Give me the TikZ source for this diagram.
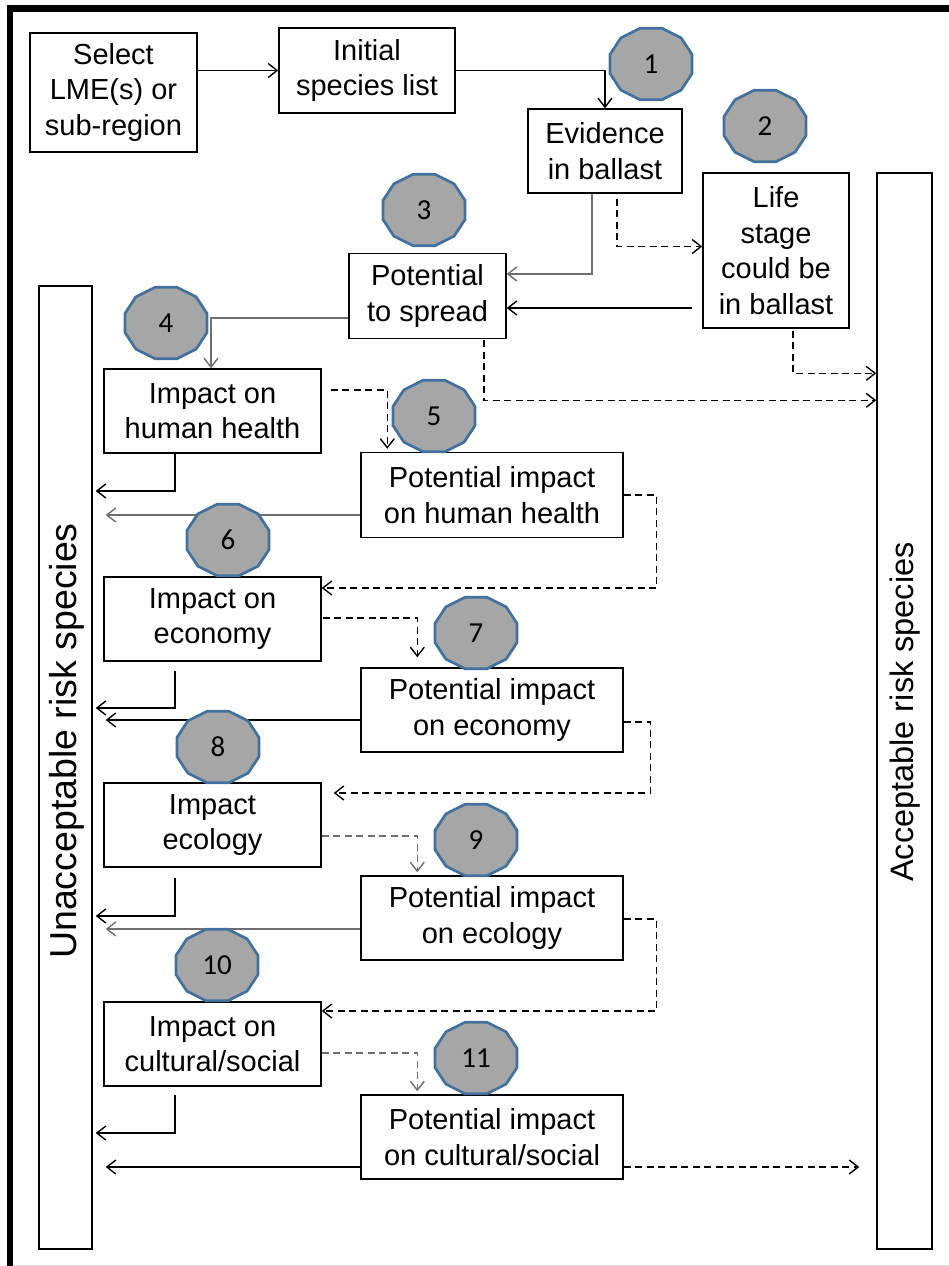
\documentclass[tikz,border=0pt]{standalone}
\usepackage{fontspec}
\setmainfont{Liberation Sans}
\newfontfamily\numfont{Carlito}
\usetikzlibrary{arrows.meta}
\definecolor{ringfill}{HTML}{A6A6A6}
\definecolor{ringline}{HTML}{41719C}
\definecolor{lineg}{HTML}{6E6E6E}
\tikzset{
  box/.style={draw,line width=1.4pt,align=center,inner sep=0pt,font=\fontsize{29}{35.5}\selectfont},
  bar/.style={draw,line width=1.4pt,inner sep=0pt},
  flow/.style={line width=1.4pt,-{Straight Barb[length=9pt,width=14pt,line width=1.4pt]}},
  flowg/.style={flow,draw=lineg},
  dflow/.style={flow,dash pattern=on 7pt off 4.5pt},
  dflowg/.style={dflow,draw=lineg},
  ringc/.style={fill=ringfill,draw=ringline,line width=2.7pt},
  numtxt/.style={font=\numfont\fontsize{29}{29}\selectfont,inner sep=0pt}
}
\begin{document}
\begin{tikzpicture}[x=1pt,y=-1pt]
            \def\numring(#1,#2)#3{
                \draw[ringc,shift={(#1,#2)}] (15:42.5 and 37)
                \foreach \a in {45,75,...,345}{-- (\a:42.5 and 37)} -- cycle;
                \node[numtxt] (n#3) at (#1,#2) {#3};}
            \useasboundingbox (0,0) rectangle (949,1266);
            \draw[line width=6.5pt] (10,1266) -- (10,8.5) -- (949,8.5);
            \draw[line width=1pt,gray!25] (13,1265) -- (949,1265);
            %===========================================
            \node[box,minimum width=167pt,minimum height=119pt] (sel) at (113.5,92.5) {Select\\LME(s) or\\sub-region};
            \node[box,minimum width=176pt,minimum height=85pt] (init) at (367,70.5) {Initial\\species list};
            \node[box,minimum width=154pt,minimum height=84pt] (evid) at (605,151) {Evidence\\in ballast};
            \node[box,minimum width=146pt,minimum height=155pt] (life) at (776,250.5) {Life\\stage\\could be\\in ballast};
            \node[box,minimum width=157pt,minimum height=85pt] (spread) at (427.5,296) {Potential\\to spread};
            \node[box,minimum width=217pt,minimum height=84pt] (ihh) at (212.5,411) {Impact on\\human health};
            \node[box,minimum width=262pt,minimum height=85pt] (pihh) at (492,495) {Potential impact\\on human health};
            \node[box,minimum width=217pt,minimum height=84pt] (ieco) at (212.5,619) {Impact on\\economy};
            \node[box,minimum width=262pt,minimum height=84pt] (pieco) at (492,710) {Potential impact\\on economy};
            \node[box,minimum width=217pt,minimum height=84pt] (iecl) at (212.5,825) {Impact\\ecology};
            \node[box,minimum width=262pt,minimum height=84pt] (piecl) at (492,918) {Potential impact\\on ecology};
            \node[box,minimum width=217pt,minimum height=84pt] (icul) at (212.5,1044) {Impact on\\cultural/social};
            \node[box,minimum width=262pt,minimum height=84pt] (picul) at (492,1137) {Potential impact\\on cultural/social};
            \node[bar,minimum width=53pt,minimum height=963pt] (unacc) at (65.5,767.5) {};
            \node[bar,minimum width=55pt,minimum height=1076pt] (acc) at (904.5,711) {};
            \node[rotate=90,font=\fontsize{37.5}{37.5}\selectfont] (unacct) at (67,741) {Unacceptable risk species};
            \node[rotate=90,font=\fontsize{32.5}{32.5}\selectfont] (acct) at (905,712) {Acceptable risk species};
            %===========================================
            \draw[flow] (sel.east |- init.west) -- (init.west);
            \draw[flow] (init.east) -| (evid.north);
            \draw[flowg] ([xshift=-13pt]evid.south) |- ([yshift=22pt]spread.east);
            \draw[dflow] ([xshift=12pt,yshift=-5pt]evid.south) |- ([yshift=4pt]life.west);
            \draw[flow] ([xshift=-10pt,yshift=-57.5pt]life.west) -- ([yshift=-12pt]spread.east);
            \draw[dflow] ([xshift=17pt,yshift=-2pt]life.south) |- ([yshift=-201pt]acc.north west);
            \draw[dflow] ([xshift=56.5pt,yshift=-1pt]spread.south) |- ([yshift=-228pt]acc.north west);
            \draw[flowg] ([yshift=-22pt]spread.west) -| ([xshift=-1.5pt]ihh.north);
            %-------------------------------------------
            \draw[dflow] ([xshift=9pt,yshift=21pt]ihh.east) -| ([xshift=27pt,yshift=3pt]pihh.north west);
            \draw[dflow] ([xshift=1pt,yshift=1pt]ieco.east) -| ([xshift=57pt,yshift=10pt]pieco.north west);
            \draw[dflowg] ([yshift=-11pt]iecl.east) -| ([xshift=57pt,yshift=3pt]piecl.north west);
            \draw[dflowg] ([yshift=-9pt]icul.east) -| ([xshift=57pt,yshift=3pt]picul.north west);
            \draw[dflow] (pihh.east) -- ++(33,0) |- ([yshift=31pt]ieco.east);
            \draw[dflow] ([yshift=-12pt]pieco.east) -- ++(27,0) |- ([xshift=12pt,yshift=32pt]iecl.east);
            \draw[dflow] ([yshift=-1pt]piecl.east) -- ++(33,0) |- ([yshift=33pt]icul.east);
            \draw[dflow,shorten >=17pt] ([yshift=-30pt]picul.east) -- ([yshift=-30pt]picul.east -| acc.west);
            %-------------------------------------------
            \draw[flow] ([xshift=-37.5pt]ihh.south) |- ([xshift=3pt]unacc.east |- 0,491);
            \draw[flow] ([xshift=-37.5pt,yshift=-9pt]ieco.south) |- ([xshift=3pt]unacc.east |- 0,708);
            \draw[flow] ([xshift=-37.5pt,yshift=-10pt]iecl.south) |- ([xshift=3pt]unacc.east |- 0,916);
            \draw[flow] ([xshift=-37.5pt,yshift=-8pt]icul.south) |- ([xshift=3pt]unacc.east |- 0,1133);
            \draw[flowg,shorten >=13pt] ([yshift=-20pt]pihh.west) -- ([yshift=-20pt]pihh.west -| unacc.east);
            \draw[flow,shorten >=13pt] ([yshift=-10pt]pieco.west) -- ([yshift=-10pt]pieco.west -| unacc.east);
            \draw[flowg,shorten >=13pt] ([yshift=-11pt]piecl.west) -- ([yshift=-11pt]piecl.west -| unacc.east);
            \draw[flow,shorten >=13pt] ([yshift=-30pt]picul.west) -- ([yshift=-30pt]picul.west -| unacc.east);
            %===========================================
            \foreach \p/\q/\n in {651/64/1,765/126/2,424/210/3,166/323/4,434/416/5,228/540/6,
                476/633/7,218/747/8,476/840/9,217/965/10,476/1058/11}
                \numring(\p,\q){\n};
    \end{tikzpicture}
\end{document}
